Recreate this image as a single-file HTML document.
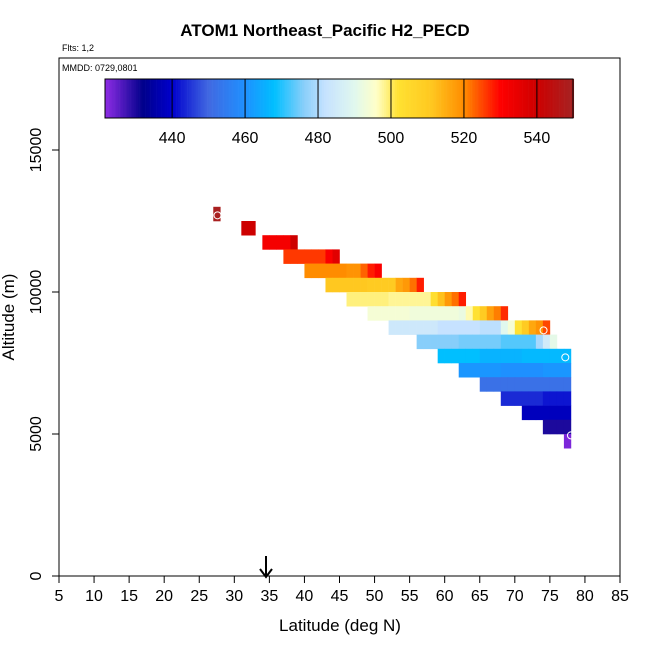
<!DOCTYPE html>
<html><head><meta charset="utf-8"><style>
body{margin:0;background:#fff;}
svg{display:block;font-family:"Liberation Sans",sans-serif;}
</style></head><body>
<svg id="c" width="650" height="650"></svg>
<script>
// data rows: bottom altitude (m), start latitude (deg), values per 1-deg cell
const rowAlt=[12500,12000,11500,11000,10500,10000,9500,9000,8500,8000,7500,7000,6500,6000,5500,5000,4500];
const rowLat=[27,31,34,37,40,43,46,49,52,56,59,62,65,68,71,74,77];
const rowVals=[
[549],
[540,540],
[532,532,532,532,540],
[526,526,526,526,526,526,531,536],
[520,520,520,520,520,520,519,519,523,528,531],
[511,511,511,511,511,511,510,510,510,510,516,518,522,528],
[499,499,499,499,499,499,498,498,498,498,498,498,503,512,518,522,528],
[494,494,494,494,494,494,493,493,493,493,493,493,493,492,497,502,510,517,521,527],
[484,484,484,484,484,484,484,482,482,482,482,482,482,481,481,481,490,494,502,510,516,519,525],
[476,476,476,476,476,476,475,475,475,475,475,475,473,473,473,473,473,479,485,491],
[468,468,468,468,468,468,466,466,466,466,466,466,467,467,467,467,467,467,467],
[461,461,461,461,461,461,460,460,460,460,460,460,461,461,461,461],
[452,452,452,452,452,452,452,452,452,452,452,452,452],
[444,444,444,444,444,444,442,442,442,442],
[438,438,438,438,438,438,438],
[430,430,430,430],
[423]
];
const ptLat=[27.6,74.1,77.2,78.0];
const ptAlt=[12700,8650,7700,4950];
const xTicks=[5,10,15,20,25,30,35,40,45,50,55,60,65,70,75,80,85];
const yTicks=[0,5000,10000,15000];
const cbTicks=[440,460,480,500,520,540];

const NS='http://www.w3.org/2000/svg';
const svg=document.getElementById('c');
function el(t,a,p){const e=document.createElementNS(NS,t);for(const k in a)e.setAttribute(k,a[k]);(p||svg).appendChild(e);return e;}
const X=v=>59+(v-5)*7.0125;
const Y=v=>576-v*0.0284;
const stops=[[422,[138,43,226]],[432,[0,0,139]],[440,[0,0,205]],[450,[65,105,225]],[460,[30,144,255]],[468,[0,191,255]],[476,[135,206,250]],[482,[198,226,255]],[490,[224,248,238]],[496,[255,255,200]],[502,[255,225,50]],[511,[255,200,32]],[520,[255,140,0]],[530,[255,0,0]],[540,[205,0,0]],[550,[165,35,35]]];
function col(v){if(v<=stops[0][0])return 'rgb('+stops[0][1]+')';
for(let i=1;i<stops.length;i++){if(v<=stops[i][0]){const a=stops[i-1],b=stops[i],t=(v-a[0])/(b[0]-a[0]);return 'rgb('+a[1].map((c,j)=>Math.round(c+(b[1][j]-c)*t)).join(',')+')';}}
return 'rgb('+stops[stops.length-1][1]+')';}

el('text',{x:325,y:36,'text-anchor':'middle','font-size':17,'font-weight':'bold'}).textContent='ATOM1 Northeast_Pacific H2_PECD';
const t1=el('text',{x:62,y:51,'font-size':9});t1.textContent='Flts: 1,2';
const frame=el('rect',{x:59,y:58,width:561,height:518,fill:'none',stroke:'#000'});

const t2=el('text',{x:62,y:71,'font-size':9});t2.textContent='MMDD: 0729,0801';

// colorbar
const cbx=v=>105+(v-421.6)*(468/128.3);
const cb=el('g',{});
for(let v=421.6;v<550;v+=0.5){el('rect',{x:cbx(v),y:79,width:468/128.3*0.5+0.3,height:39,fill:col(v+0.25)},cb);}
el('rect',{x:105,y:79,width:468,height:39,fill:'none',stroke:'#000'},cb);
cbTicks.forEach(t=>{el('line',{x1:cbx(t),x2:cbx(t),y1:79,y2:118,stroke:'#000','stroke-width':1},cb);
const tx=el('text',{x:cbx(t),y:143,'text-anchor':'middle','font-size':16},cb);tx.textContent=t;});

// cells
rowVals.forEach((vals,r)=>{vals.forEach((v,i)=>{
const lat=rowLat[r]+i;
const c=el('rect',{x:X(lat),y:Y(rowAlt[r]+500),width:X(lat+1)-X(lat)+0.3,height:Y(rowAlt[r])-Y(rowAlt[r]+500)+0.3,fill:col(v)});


});});
ptLat.forEach((l,i)=>{const p=el('circle',{cx:X(l),cy:Y(ptAlt[i]),r:3.5,fill:'none',stroke:'#fff','stroke-width':1});

});

// axes
xTicks.forEach(t=>{el('line',{x1:X(t),x2:X(t),y1:576,y2:583,stroke:'#000'});
const tx=el('text',{x:X(t),y:601,'text-anchor':'middle','font-size':16});tx.textContent=t;});
yTicks.forEach(t=>{el('line',{x1:52,x2:59,y1:Y(t),y2:Y(t),stroke:'#000'});
const tx=el('text',{x:0,y:0,'text-anchor':'middle','font-size':16,transform:`translate(41,${Y(t)}) rotate(-90)`});tx.textContent=t;});
const xl=el('text',{x:340,y:631,'text-anchor':'middle','font-size':17});xl.textContent='Latitude (deg N)';

const yl=el('text',{x:0,y:0,'text-anchor':'middle','font-size':17,transform:'translate(14,317) rotate(-90)'});yl.textContent='Altitude (m)';

// arrow
const ar=el('g',{});
el('line',{x1:266,x2:266,y1:556,y2:577,stroke:'#000','stroke-width':2},ar);
el('path',{d:'M260,569 L266,577 L272,569',fill:'none',stroke:'#000','stroke-width':2},ar);
</script>
</body></html>
